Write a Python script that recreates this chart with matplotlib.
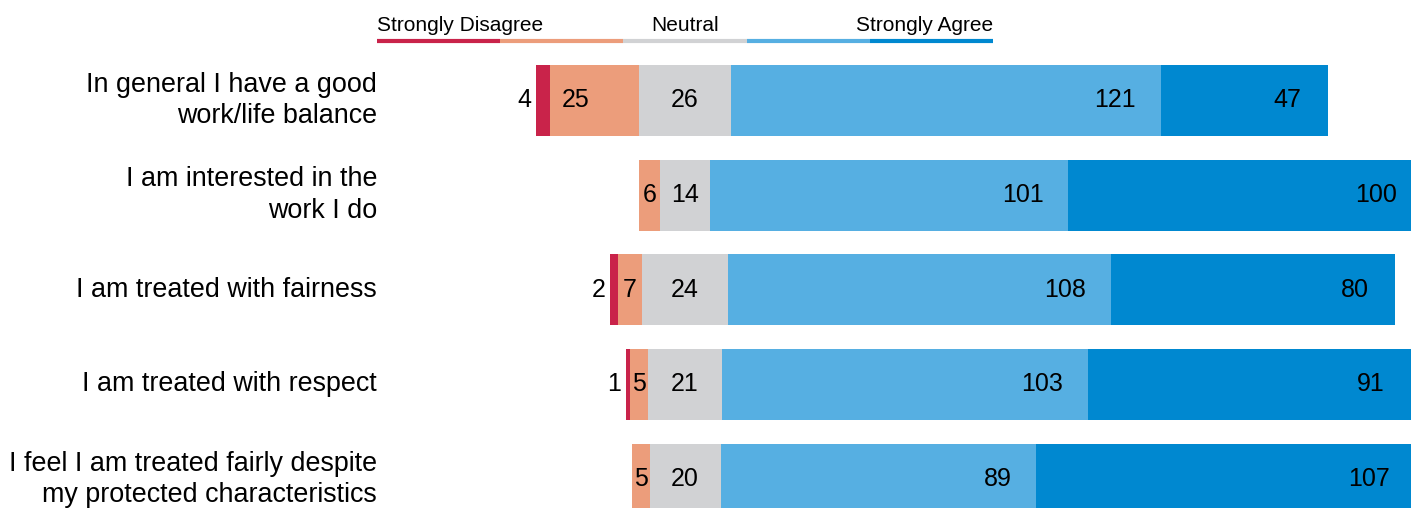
import numpy as np
import matplotlib.pyplot as plt

plt.rcParams['font.family'] = ['Liberation Sans', 'DejaVu Sans']

questions = ['In general I have a good\nwork/life balance',
             'I am interested in the\nwork I do',
             'I am treated with fairness',
             'I am treated with respect',
             'I feel I am treated fairly despite\nmy protected characteristics']
strongly_disagree = [4, 0, 2, 1, 0]
disagree = [25, 6, 7, 5, 5]
neutral = [26, 14, 24, 21, 20]
agree = [121, 101, 108, 103, 89]
strongly_agree = [47, 100, 80, 91, 107]
levels = ['Strongly Disagree', 'Disagree', 'Neutral', 'Agree', 'Strongly Agree']
colors = ['#c9234a', '#ec9d7b', '#d1d2d4', '#56afe2', '#0088d0']

# layout in pixels
W, H = 1411, 508
ppu = 3.55          # pixels per response
center_px = 685
row0_px, row_step = 100.3, 94.7

fig = plt.figure(figsize=(W / 100, H / 100), dpi=100)
ax = fig.add_axes([0, 0, 1, 1])
ax.set_xlim(-center_px / ppu, (W - center_px) / ppu)
ax.set_ylim((H - row0_px) / row_step, -row0_px / row_step)
ax.axis('off')

sd = np.array(strongly_disagree)
d = np.array(disagree)
n = np.array(neutral)
a = np.array(agree)
sa = np.array(strongly_agree)
y = np.arange(len(questions))
h = 71 / row_step

left = -(n / 2 + d + sd)
for vals, col in zip([sd, d, n, a, sa], colors):
    ax.barh(y, vals, left=left, height=h, color=col, linewidth=0)
    left = left + vals

fs = 18
for i in range(len(questions)):
    x0 = -(n[i] / 2 + d[i] + sd[i])
    if sd[i] > 0:
        ax.text(x0 - 5 / ppu, i, str(sd[i]), ha='right', va='center', fontsize=fs)
    x1 = x0 + sd[i]
    if d[i] > 0:
        if d[i] >= 10:
            ax.text(x1 + 12 / ppu, i, str(d[i]), ha='left', va='center', fontsize=fs)
        else:
            ax.text(x1 + d[i] / 2, i, str(d[i]), ha='center', va='center', fontsize=fs)
    ax.text(0, i, str(n[i]), ha='center', va='center', fontsize=fs)
    x3 = n[i] / 2 + a[i]
    ax.text(x3 - 25 / ppu, i, str(a[i]), ha='right', va='center', fontsize=fs)
    x4 = x3 + sa[i]
    ax.text(x4 - 26 / ppu, i, str(sa[i]), ha='right', va='center', fontsize=fs)
    ax.text(377 / W, i, questions[i], ha='right', va='center', fontsize=19.4,
            linespacing=1.25, transform=ax.get_yaxis_transform())

# legend strip
leg_l, leg_r = (377 - center_px) / ppu, (993 - center_px) / ppu
seg = (leg_r - leg_l) / len(levels)
ly = (41 - row0_px) / row_step
for k, col in enumerate(colors):
    ax.plot([leg_l + k * seg, leg_l + (k + 1) * seg], [ly, ly], color=col,
            lw=3, solid_capstyle='butt', clip_on=False)
ty = (31 - row0_px) / row_step
ax.text(leg_l, ty, levels[0], ha='left', va='baseline', fontsize=15)
ax.text(0, ty, levels[2], ha='center', va='baseline', fontsize=15)
ax.text(leg_r, ty, levels[4], ha='right', va='baseline', fontsize=15)

fig.savefig('out.png', dpi=100)
